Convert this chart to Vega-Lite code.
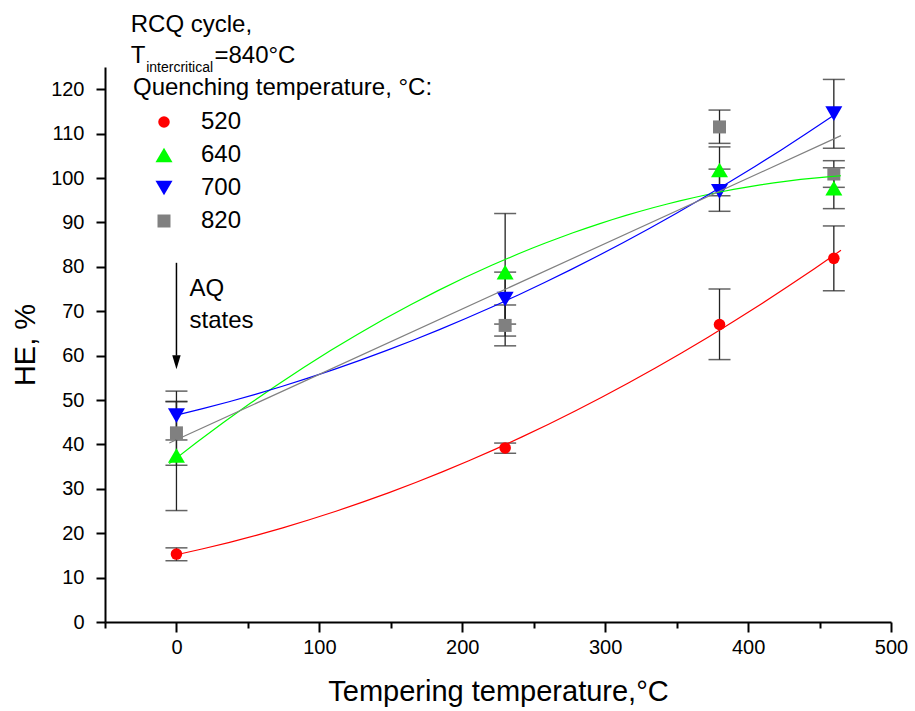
{
  "$schema": "https://vega.github.io/schema/vega-lite/v6.json",
  "width": 786,
  "height": 555,
  "autosize": {"type": "none"},
  "padding": {"left": 105, "top": 67, "right": 24, "bottom": 89},
  "background": "white",
  "config": {
    "view": {"stroke": null},
    "font": "Liberation Sans",
    "axis": {"grid": false, "domainColor": "black", "domainWidth": 2, "tickColor": "black", "tickWidth": 2, "labelColor": "black", "titleColor": "black", "labelFont": "Liberation Sans", "titleFont": "Liberation Sans", "labelFontSize": 20, "titleFontSize": 29, "titleFontWeight": "normal", "labelOverlap": false, "labelFlush": false},
    "text": {"font": "Liberation Sans", "color": "black"}
  },
  "datasets": {
    "pts": [
      {"q": "520", "t": 0, "he": 15.3, "lo": 13.8, "hi": 16.7},
      {"q": "520", "t": 230, "he": 39.2, "lo": 38.0, "hi": 40.3},
      {"q": "520", "t": 380, "he": 67.0, "lo": 59.1, "hi": 75.0},
      {"q": "520", "t": 460, "he": 81.9, "lo": 74.6, "hi": 89.2},
      {"q": "640", "t": 0, "he": 37.5, "lo": 25.1, "hi": 49.7},
      {"q": "640", "t": 230, "he": 78.8, "lo": 64.4, "hi": 92.0},
      {"q": "640", "t": 380, "he": 101.8, "lo": 96.0, "hi": 107.0},
      {"q": "640", "t": 460, "he": 97.7, "lo": 93.1, "hi": 102.3},
      {"q": "700", "t": 0, "he": 46.5, "lo": 41.0, "hi": 52.0},
      {"q": "700", "t": 230, "he": 72.7, "lo": 67.1, "hi": 78.8},
      {"q": "700", "t": 380, "he": 97.0, "lo": 92.5, "hi": 102.0},
      {"q": "700", "t": 460, "he": 114.5, "lo": 106.7, "hi": 122.2},
      {"q": "820", "t": 0, "he": 42.6, "lo": 35.3, "hi": 49.6},
      {"q": "820", "t": 230, "he": 66.8, "lo": 62.2, "hi": 71.4},
      {"q": "820", "t": 380, "he": 111.5, "lo": 107.8, "hi": 115.3},
      {"q": "820", "t": 460, "he": 100.9, "lo": 97.9, "hi": 103.9}
    ]
  },
  "data": {"name": "pts"},
  "layer": [
    {
      "mark": {"type": "rule", "color": "#222", "strokeWidth": 1.3},
      "encoding": {
        "x": {"field": "t", "type": "quantitative", "title": "Tempering temperature,°C",
          "scale": {"domain": [-50, 500], "nice": false, "zero": false},
          "axis": {"values": [-50, 0, 50, 100, 150, 200, 250, 300, 350, 400, 450, 500],
            "labelExpr": "datum.value % 100 === 0 ? datum.label : ''",
            "tickSize": {"condition": {"test": "datum.value % 100 === 0", "value": 10}, "value": 6},
            "labelPadding": 5, "titlePadding": 20}},
        "y": {"field": "lo", "type": "quantitative", "title": "HE, %",
          "scale": {"domain": [0, 125], "nice": false, "zero": true},
          "axis": {"values": [0, 5, 10, 15, 20, 25, 30, 35, 40, 45, 50, 55, 60, 65, 70, 75, 80, 85, 90, 95, 100, 105, 110, 115, 120, 125],
            "labelExpr": "datum.value % 10 === 0 ? datum.label : ''",
            "tickSize": {"condition": {"test": "datum.value % 10 === 0", "value": 9}, "value": 5},
            "labelPadding": 12, "titlePadding": 10}},
        "y2": {"field": "hi"}
      }
    },
    {
      "mark": {"type": "tick", "orient": "horizontal", "color": "#222", "size": 22, "thickness": 1.5},
      "encoding": {
        "x": {"field": "t", "type": "quantitative", "title": "Tempering temperature,°C"},
        "y": {"field": "lo", "type": "quantitative", "title": "HE, %"}
      }
    },
    {
      "mark": {"type": "tick", "orient": "horizontal", "color": "#222", "size": 22, "thickness": 1.5},
      "encoding": {
        "x": {"field": "t", "type": "quantitative", "title": "Tempering temperature,°C"},
        "y": {"field": "hi", "type": "quantitative", "title": "HE, %"}
      }
    },
    {
      "mark": {"type": "point", "filled": true, "opacity": 1, "strokeWidth": 0},
      "encoding": {
        "x": {"field": "t", "type": "quantitative", "title": "Tempering temperature,°C"},
        "y": {"field": "he", "type": "quantitative", "title": "HE, %"},
        "color": {"field": "q", "type": "nominal",
          "scale": {"type": "ordinal", "domain": ["520", "640", "700", "820"], "range": ["#ff0000", "#00ff00", "#0000ff", "#808080"]},
          "legend": {"title": "Quenching temperature, °C:", "orient": "none", "legendX": 28, "legendY": 9, "titleFontSize": 24, "titleFontWeight": "normal", "titleFont": "Liberation Sans", "titleColor": "black", "titleLimit": 600, "labelLimit": 300, "labelFontSize": 24, "labelFont": "Liberation Sans", "labelColor": "black", "symbolOffset": 19, "labelOffset": 25, "rowPadding": 9, "titlePadding": 10, "padding": 0, "symbolStrokeWidth": 0, "symbolOpacity": 1}},
        "shape": {"field": "q", "type": "nominal",
          "scale": {"type": "ordinal", "domain": ["520", "640", "700", "820"], "range": ["circle", "triangle-up", "triangle-down", "square"]},
          "legend": {"title": "Quenching temperature, °C:", "orient": "none", "legendX": 28, "legendY": 9, "titleFontSize": 24, "titleFontWeight": "normal", "titleFont": "Liberation Sans", "titleColor": "black", "titleLimit": 600, "labelLimit": 300, "labelFontSize": 24, "labelFont": "Liberation Sans", "labelColor": "black", "symbolOffset": 19, "labelOffset": 25, "rowPadding": 9, "titlePadding": 10, "padding": 0, "symbolStrokeWidth": 0, "symbolOpacity": 1}},
        "size": {"field": "q", "type": "nominal",
          "scale": {"type": "ordinal", "domain": ["520", "640", "700", "820"], "range": [133, 289, 289, 169]},
          "legend": {"title": "Quenching temperature, °C:", "orient": "none", "legendX": 28, "legendY": 9, "titleFontSize": 24, "titleFontWeight": "normal", "titleFont": "Liberation Sans", "titleColor": "black", "titleLimit": 600, "labelLimit": 300, "labelFontSize": 24, "labelFont": "Liberation Sans", "labelColor": "black", "symbolOffset": 19, "labelOffset": 25, "rowPadding": 9, "titlePadding": 10, "padding": 0, "symbolStrokeWidth": 0, "symbolOpacity": 1}}
      }
    },
    {
      "transform": [{"filter": "datum.q === '520'"}, {"regression": "he", "on": "t", "method": "poly", "order": 2, "extent": [0, 465]}],
      "mark": {"type": "line", "color": "#ff0000", "strokeWidth": 1.2},
      "encoding": {"x": {"field": "t", "type": "quantitative", "title": "Tempering temperature,°C"}, "y": {"field": "he", "type": "quantitative", "title": "HE, %"}}
    },
    {
      "transform": [{"filter": "datum.q === '640'"}, {"regression": "he", "on": "t", "method": "poly", "order": 2, "extent": [-5, 465]}],
      "mark": {"type": "line", "color": "#00ff00", "strokeWidth": 1.2},
      "encoding": {"x": {"field": "t", "type": "quantitative", "title": "Tempering temperature,°C"}, "y": {"field": "he", "type": "quantitative", "title": "HE, %"}}
    },
    {
      "transform": [{"filter": "datum.q === '700'"}, {"regression": "he", "on": "t", "method": "poly", "order": 2, "extent": [0, 460]}],
      "mark": {"type": "line", "color": "#0000ff", "strokeWidth": 1.2},
      "encoding": {"x": {"field": "t", "type": "quantitative", "title": "Tempering temperature,°C"}, "y": {"field": "he", "type": "quantitative", "title": "HE, %"}}
    },
    {
      "transform": [{"filter": "datum.q === '820'"}, {"regression": "he", "on": "t", "method": "linear", "extent": [-5, 465]}],
      "mark": {"type": "line", "color": "#808080", "strokeWidth": 1.2},
      "encoding": {"x": {"field": "t", "type": "quantitative", "title": "Tempering temperature,°C"}, "y": {"field": "he", "type": "quantitative", "title": "HE, %"}}
    },
    {
      "data": {"values": [{}]},
      "mark": {"type": "rule", "color": "black", "strokeWidth": 1.5},
      "encoding": {"x": {"datum": 0}, "y": {"datum": 80.9}, "y2": {"datum": 60}}
    },
    {
      "data": {"values": [{}]},
      "mark": {"type": "point", "shape": "M-0.6,-1L0.6,-1L0,1Z", "filled": true, "color": "black", "opacity": 1, "size": 196, "strokeWidth": 0},
      "encoding": {"x": {"datum": 0}, "y": {"datum": 58.5}}
    },
    {
      "data": {"values": [{}]},
      "mark": {"type": "text", "align": "left", "baseline": "alphabetic", "fontSize": 24},
      "encoding": {"x": {"datum": -32}, "y": {"datum": 132.8}, "text": {"value": "RCQ cycle,"}}
    },
    {
      "data": {"values": [{}]},
      "mark": {"type": "text", "align": "left", "baseline": "alphabetic", "fontSize": 24},
      "encoding": {"x": {"datum": -32}, "y": {"datum": 125.8}, "text": {"value": "T"}}
    },
    {
      "data": {"values": [{}]},
      "mark": {"type": "text", "align": "left", "baseline": "alphabetic", "fontSize": 14},
      "encoding": {"x": {"datum": -21.2}, "y": {"datum": 123.8}, "text": {"value": "intercritical"}}
    },
    {
      "data": {"values": [{}]},
      "mark": {"type": "text", "align": "left", "baseline": "alphabetic", "fontSize": 24},
      "encoding": {"x": {"datum": 26.6}, "y": {"datum": 125.8}, "text": {"value": "=840°C"}}
    },
    {
      "data": {"values": [{}]},
      "mark": {"type": "text", "align": "left", "baseline": "alphabetic", "fontSize": 24},
      "encoding": {"x": {"datum": 9.1}, "y": {"datum": 73.4}, "text": {"value": "AQ"}}
    },
    {
      "data": {"values": [{}]},
      "mark": {"type": "text", "align": "left", "baseline": "alphabetic", "fontSize": 24},
      "encoding": {"x": {"datum": 9.1}, "y": {"datum": 66.2}, "text": {"value": "states"}}
    }
  ]
}
